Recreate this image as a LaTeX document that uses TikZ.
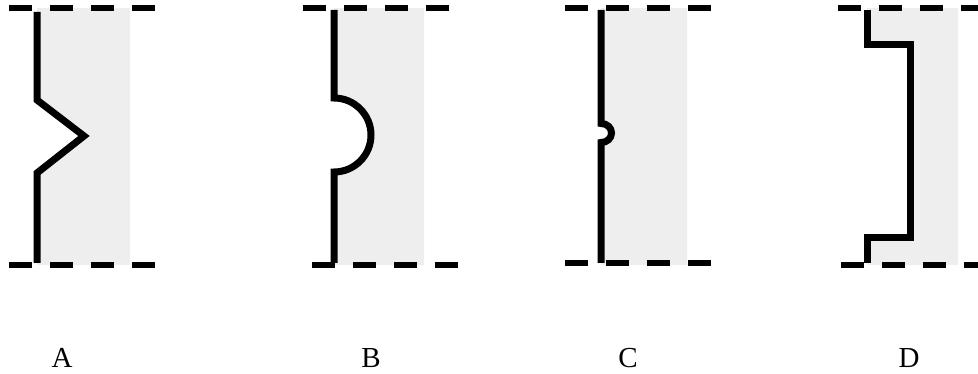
\documentclass[tikz,border=0pt]{standalone}
\usepackage{fontspec}
\setmainfont{Liberation Serif}
\definecolor{wallgray}{RGB}{238,238,238}

\tikzset{
  wall/.style = {fill = wallgray, draw = none},
  edgeline/.style = {line width = 7pt, black},
  dashline/.style = {line width = 5.5pt, black, dash pattern = on 23pt off 18pt},
  caption/.style = {font = \fontsize{29}{29}\selectfont, anchor = base, inner sep = 0pt}
}

\begin{document}
\begin{tikzpicture}[x=1pt, y=-1pt]
\useasboundingbox (0,0) rectangle (978,374);

% panel A, v-shaped notch
\fill [wall] (37,8) -- (37,100) -- (84,136) -- (37,173) -- (37,265)
 -- (130,265) -- (130,8) -- cycle;
\draw [edgeline] (37,12) -- (37,100) -- (84,136) -- (37,173) -- (37,263);
\draw [dashline] (9,8) -- (157,8);
\draw [dashline] (9,265) -- (157,265);

% panel B, half round notch
\fill [wall] (334,8) -- (334,98)
 .. controls (354.4,98) and (371,114.6) .. (371,135)
 .. controls (371,155.4) and (354.4,172) .. (334,172)
 -- (334,265) -- (424,265) -- (424,8) -- cycle;
\draw [edgeline] (334,10) -- (334,98)
 .. controls (354.4,98) and (371,114.6) .. (371,135)
 .. controls (371,155.4) and (354.4,172) .. (334,172) -- (334,263);
\draw [dashline] (303,8) -- (451,8);
\draw [dashline] (312,265) -- (460,265);

% panel C, tiny round notch
\fill [wall] (601,8) -- (601,123.5)
 .. controls (607.2,123.5) and (611.5,127.8) .. (611.5,133)
 .. controls (611.5,138.2) and (607.2,142.5) .. (601,142.5)
 -- (601,265) -- (687,265) -- (687,8) -- cycle;
\draw [edgeline] (601,10) -- (601,123.5)
 .. controls (607.2,123.5) and (611.5,127.8) .. (611.5,133)
 .. controls (611.5,138.2) and (607.2,142.5) .. (601,142.5) -- (601,263);
\draw [dashline] (565,8) -- (713,8);
\draw [dashline] (565,263) -- (713,263);

% panel D, long square notch
\fill [wall] (867,8) -- (867,45) -- (910,45) -- (910,238) -- (867,238)
 -- (867,265) -- (958,265) -- (958,8) -- cycle;
\draw [edgeline] (867,10) -- (867,45) -- (910,45) -- (910,238) -- (867,238) -- (867,263);
\draw [dashline] (838,8) -- (978,8);
\draw [dashline] (841,265) -- (978,265);

% letters
\path
(62,367) node [caption] (labA) {A}
(371,367) node [caption] (labB) {B}
(628,367) node [caption] (labC) {C}
(909,367) node [caption] (labD) {D};

\end{tikzpicture}
\end{document}
